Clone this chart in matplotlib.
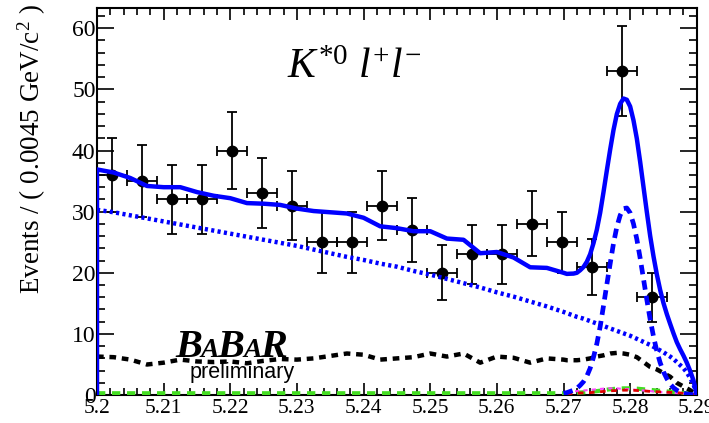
import numpy as np
import matplotlib.pyplot as plt
from matplotlib.offsetbox import TextArea, HPacker, AnnotationBbox

plt.rcParams['font.family'] = 'Liberation Serif'
plt.rcParams['mathtext.fontset'] = 'custom'
plt.rcParams['mathtext.rm'] = 'Liberation Serif'
plt.rcParams['mathtext.it'] = 'Liberation Serif:italic'

# data: bin centres (0.0045 GeV bins), counts, errors
mass = [5.20225, 5.20675, 5.21125, 5.21575, 5.22025, 5.22475, 5.22925, 5.23375,
        5.23825, 5.24275, 5.24725, 5.25175, 5.25625, 5.26075, 5.26525, 5.26975,
        5.27425, 5.27875, 5.28325]
events = [36, 35, 32, 32, 40, 33, 31, 25, 25, 31, 27, 20, 23, 23, 28, 25, 21, 53, 16]
err = [6.0, 5.9, 5.7, 5.7, 6.3, 5.7, 5.6, 5.0, 5.0, 5.6, 5.2, 4.5, 4.8, 4.8,
       5.3, 5.0, 4.6, 7.3, 4.0]

# fit components on a common mass grid (finer under the peak)
grid = [5.2000, 5.2025, 5.2050, 5.2075, 5.2100, 5.2125, 5.2150, 5.2175, 5.2200,
        5.2225, 5.2250, 5.2275, 5.2300, 5.2325, 5.2350, 5.2375, 5.2400, 5.2425,
        5.2450, 5.2475, 5.2500, 5.2525, 5.2550, 5.2575, 5.2600, 5.2625, 5.2650,
        5.2675, 5.2700,
        5.2705, 5.2710, 5.2715, 5.2720, 5.2725, 5.2730, 5.2735, 5.2740, 5.2745, 5.2750,
        5.2755, 5.2760, 5.2765, 5.2770, 5.2775, 5.2780, 5.2785, 5.2790, 5.2795, 5.2800,
        5.2805, 5.2810, 5.2815, 5.2820, 5.2825, 5.2830, 5.2835, 5.2840, 5.2845, 5.2850,
        5.2855, 5.2860, 5.2865, 5.2870, 5.2875, 5.2880, 5.2885, 5.2890, 5.2895, 5.2900]

comb = [30.3, 29.9, 29.4, 28.9, 28.4, 27.9, 27.4, 26.9, 26.4, 25.9, 25.4, 24.9,
        24.4, 23.8, 23.2, 22.6, 22.1, 21.5, 21.0, 20.3, 19.7, 19.0, 18.3, 17.6,
        16.8, 16.1, 15.3, 14.5, 13.6,
        13.4, 13.2, 13.0, 12.8, 12.65, 12.5, 12.3, 12.1, 11.9, 11.7,
        11.5, 11.3, 11.1, 10.9, 10.7, 10.5, 10.3, 10.1, 9.9, 9.7,
        9.45, 9.2, 8.95, 8.7, 8.45, 8.2, 7.9, 7.6, 7.3, 7.0,
        6.65, 6.3, 5.9, 5.4, 4.9, 4.4, 3.7, 2.8, 1.8, 0.0]

sig = [0.0] * 28 + [0.3,
       0.4, 0.6, 0.8, 1.1, 1.6, 2.2, 3.1, 4.4, 6.2, 8.4,
       11.2, 14.6, 18.1, 21.5, 24.8, 27.5, 29.4, 30.5, 30.6, 29.8,
       28.0, 25.5, 22.4, 19.0, 15.6, 12.4, 9.6, 7.2, 5.3, 3.8,
       2.7, 1.8, 1.2, 0.8, 0.5, 0.3, 0.2, 0.1, 0.05, 0.0]

peaking = [6.3, 6.2, 5.8, 5.0, 5.3, 5.8, 5.5, 5.4, 5.5, 5.2, 5.6, 5.9, 5.8, 6.0,
           6.4, 6.8, 6.6, 5.8, 6.0, 6.2, 6.8, 6.3, 6.8, 5.3, 6.3, 6.1, 5.3, 6.0, 5.8,
           5.7, 5.7, 5.7, 5.7, 5.75, 5.8, 5.9, 6.0, 6.15, 6.3,
           6.4, 6.5, 6.65, 6.8, 6.85, 6.9, 6.85, 6.8, 6.7, 6.6,
           6.4, 6.2, 5.8, 5.4, 5.0, 4.6, 4.4, 4.2, 3.9, 3.6,
           3.3, 3.0, 2.5, 2.0, 1.7, 1.4, 1.1, 0.8, 0.4, 0.0]

other = [0.3] * 29 + [0.32, 0.35, 0.37, 0.4, 0.42, 0.45, 0.5, 0.55, 0.6, 0.65,
                      0.72, 0.8, 0.88, 0.95, 1.0, 1.05, 1.08, 1.1, 1.1, 1.1,
                      1.08, 1.05, 1.0, 0.95, 0.9, 0.85, 0.8, 0.75, 0.7, 0.65,
                      0.6, 0.55, 0.5, 0.45, 0.4, 0.35, 0.3, 0.25, 0.15, 0.0]

red_part = [0.2, 0.25, 0.3, 0.3, 0.35, 0.35, 0.4, 0.4, 0.45, 0.5,
            0.55, 0.6, 0.65, 0.7, 0.72, 0.75, 0.78, 0.8, 0.8, 0.8,
            0.78, 0.75, 0.72, 0.7, 0.65, 0.6, 0.58, 0.55, 0.52, 0.5,
            0.48, 0.45, 0.42, 0.4, 0.35, 0.3, 0.25, 0.2, 0.1, 0.0]
mag_part = [0.5, 0.55, 0.6, 0.65, 0.7, 0.75, 0.8, 0.85, 0.9, 0.95,
            1.0, 1.05, 1.1, 1.1, 1.1, 1.1, 1.05, 1.0, 1.0, 0.95,
            0.9, 0.85, 0.8, 0.75, 0.7, 0.65, 0.6, 0.55, 0.5, 0.45,
            0.4, 0.38, 0.35, 0.32, 0.3, 0.25, 0.2, 0.15, 0.1, 0.0]

grid = np.array(grid)
total = np.array(comb) + np.array(sig) + np.array(peaking) + np.array(other)
tot_x = np.concatenate([[grid[0]], grid])
tot_y = np.concatenate([[0.0], total])

fig = plt.figure(figsize=(7.09, 4.23), dpi=100)
ax = fig.add_axes([0.1368, 0.066, 0.846, 0.915])

ax.errorbar(mass, events, xerr=0.00225, yerr=err, fmt='o', color='black',
            ms=7.5, elinewidth=1.3, capsize=3.5, capthick=1.3, zorder=2)

ax.plot(grid, other, color='#44dd22', lw=3, dashes=(2.0, 1.6), zorder=3)
ax.plot(grid[29:], mag_part, color='#ff44ff', lw=1.5, dashes=(2.0, 2.0), zorder=3)
ax.plot(grid[29:], red_part, color='#dd0000', lw=2, dashes=(2.0, 2.0), zorder=3)
ax.plot(grid, peaking, color='black', lw=3.2, dashes=(1.5, 1.3), zorder=4)
ax.plot(grid, comb, color='#0000ff', lw=3.2, dashes=(0.7, 0.75), zorder=4)
ax.plot(grid[28:], sig[28:], color='#0000ff', lw=3.4, dashes=(2.0, 1.3), zorder=4)
ax.plot(tot_x, tot_y, color='#0000ff', lw=3.2, zorder=5)

ax.set_xlim(5.2, 5.29)
ax.set_ylim(0, 63.3)

xt = [5.2, 5.21, 5.22, 5.23, 5.24, 5.25, 5.26, 5.27, 5.28, 5.29]
ax.set_xticks(xt)
ax.set_xticklabels(['5.2', '5.21', '5.22', '5.23', '5.24', '5.25', '5.26',
                    '5.27', '5.28', '5.29'], fontsize=15.5)
ax.set_xticks(np.arange(5.2, 5.2901, 0.002), minor=True)
ax.set_yticks([0, 10, 20, 30, 40, 50, 60])
ax.set_yticklabels(['0', '10', '20', '30', '40', '50', '60'], fontsize=17)
ax.set_yticks(np.arange(0, 63, 2), minor=True)

ax.tick_params(axis='both', which='both', direction='in', top=True, right=True,
               width=1.2, colors='black')
ax.tick_params(axis='y', which='major', length=12, pad=1)
ax.tick_params(axis='y', which='minor', length=6)
ax.tick_params(axis='x', which='major', length=8.5, pad=3)
ax.tick_params(axis='x', which='minor', length=5)
for s in ax.spines.values():
    s.set_linewidth(1.5)

ax.set_ylabel('Events / ( 0.0045 GeV/c$^{2}$ )', fontsize=19.5)
ax.yaxis.set_label_coords(-0.108, 0.636)
ax.yaxis.label.set_va('center')

ax.text(0.317, 0.819, r'$K^{*\mathit{0}}\ l^{+}l^{-}$', transform=ax.transAxes,
        fontsize=30, va='baseline', ha='left')

# BABAR logo
big = dict(family='Liberation Serif', style='italic', weight='bold', size=29)
small = dict(family='Liberation Serif', style='italic', weight='bold', size=20)
letters = [TextArea('B', textprops=big), TextArea('A', textprops=small),
           TextArea('B', textprops=big), TextArea('A', textprops=small),
           TextArea('R', textprops=big)]
logo = HPacker(children=letters, align='baseline', pad=0, sep=-1)
ab = AnnotationBbox(logo, (0.13, 0.076), xycoords='axes fraction',
                    box_alignment=(0, 0), frameon=False, pad=0)
ax.add_artist(ab)
ax.text(0.155, 0.044, 'preliminary', transform=ax.transAxes,
        fontsize=15.5, family='Liberation Sans', va='baseline', ha='left')

plt.savefig('out.png', dpi=100)
